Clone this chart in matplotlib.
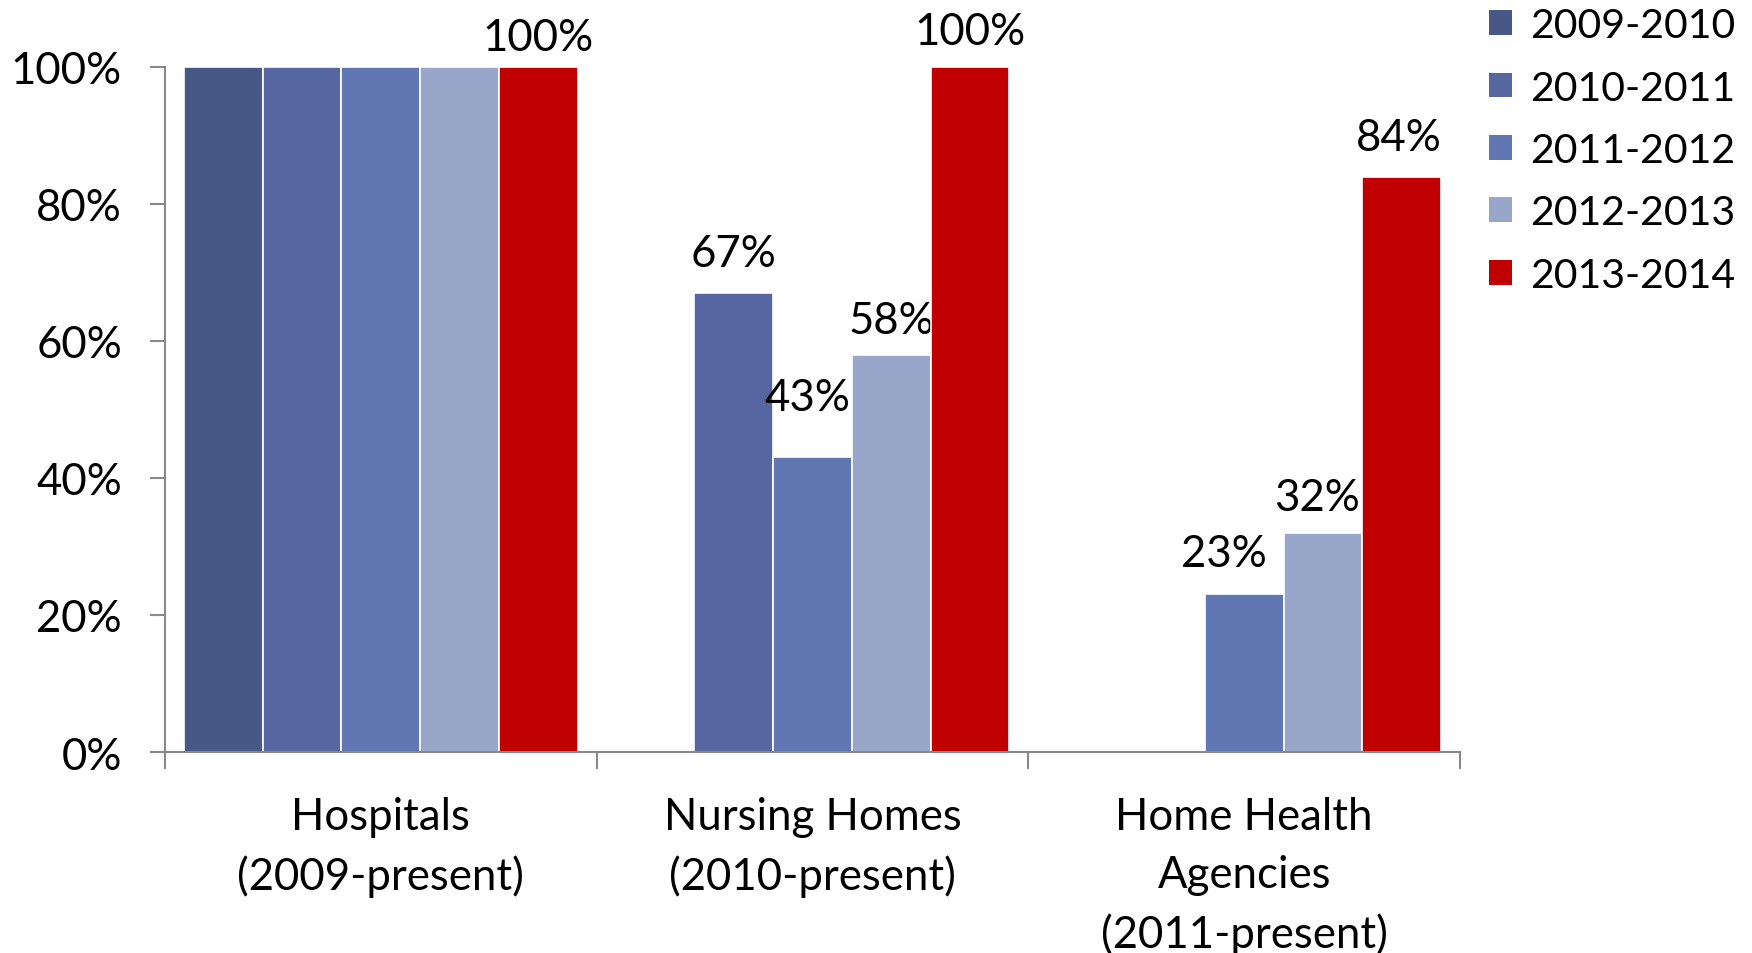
import numpy as np
import matplotlib
matplotlib.use("Agg")
import matplotlib.pyplot as plt
from matplotlib.patches import Patch

plt.rcParams['font.family'] = ['Lato', 'DejaVu Sans']

categories = ["Hospitals\n(2009-present)", "Nursing Homes\n(2010-present)",
              "Home Health\nAgencies\n(2011-present)"]
series = ["2009-2010", "2010-2011", "2011-2012", "2012-2013", "2013-2014"]
values = {
    "2009-2010": [100, np.nan, np.nan],
    "2010-2011": [100, 67, np.nan],
    "2011-2012": [100, 43, 23],
    "2012-2013": [100, 58, 32],
    "2013-2014": [100, 100, 84],
}
# which bars carry a data label (per series, per category)
show_label = {
    "2009-2010": [False, False, False],
    "2010-2011": [False, True, False],
    "2011-2012": [False, True, True],
    "2012-2013": [False, True, True],
    "2013-2014": [True, True, True],
}
colors = ["#475886", "#5566A0", "#6177B3", "#98A6C9", "#C00000"]

# label placement tweaks (pixels: dx, baseline gap above bar)
label_pos = {
    ("2010-2011", 1): (0, 27),
    ("2011-2012", 1): (-5, 47),
    ("2012-2013", 1): (0, 22),
    ("2013-2014", 0): (0, 17),
    ("2013-2014", 1): (0, 23),
    ("2011-2012", 2): (-20, 28),
    ("2012-2013", 2): (-6, 23),
    ("2013-2014", 2): (-3, 27),
}

DPI = 100
fig = plt.figure(figsize=(17.52, 9.54), dpi=DPI)
ax = fig.add_axes([165/1752, 1-753/954, (1460-165)/1752, (753-68)/954])

x = np.arange(len(categories))
bw = 0.912 / len(series)
FS = 31.5
px = 72.0 / DPI
for i, s in enumerate(series):
    vals = np.array(values[s], dtype=float)
    xs = x + (i - 2) * bw
    bars = ax.bar(xs, np.nan_to_num(vals) / 100, width=bw, color=colors[i],
                  edgecolor="white", linewidth=1.2, zorder=3)
    for j, (b, v) in enumerate(zip(bars, vals)):
        if show_label[s][j] and not np.isnan(v):
            dx, dy = label_pos.get((s, j), (0, 24))
            ax.annotate(f"{int(v)}%", (b.get_x() + b.get_width()/2, v/100),
                        xytext=(dx*px, dy*px), textcoords="offset points",
                        ha="center", va="baseline", fontsize=FS, color="black",
                        annotation_clip=False)

ax.set_xlim(-0.5, len(categories) - 0.5)
ax.set_ylim(0, 1)
ax.set_yticks(np.arange(0, 1.01, 0.2))
ax.set_yticklabels([f"{int(round(t*100))}%" for t in np.arange(0, 1.01, 0.2)])
ax.set_xticks(np.arange(-0.5, len(categories), 1.0))
ax.set_xticklabels([])
ax.set_xticks(x, minor=True)
ax.set_xticklabels(categories, minor=True, fontsize=FS, linespacing=1.5)
ax.tick_params(axis='x', which='major', length=12, width=1.5, color="#898989", direction='out')
ax.tick_params(axis='x', which='minor', length=0, pad=32)
ax.tick_params(axis='y', length=11, width=1.5, color="#898989", direction='out',
               labelsize=FS, pad=20)
for sp in ["top", "right"]:
    ax.spines[sp].set_visible(False)
for sp in ["left", "bottom"]:
    ax.spines[sp].set_color("#898989")
    ax.spines[sp].set_linewidth(1.5)
ax.spines["bottom"].set_zorder(4)

handles = [Patch(facecolor=c, edgecolor="none") for c in colors]
fig.legend(handles, series, loc="upper left", bbox_to_anchor=(1485/1752, 1 - 4/954),
           frameon=False, fontsize=29.5, handlelength=0.56, handleheight=0.56,
           handletextpad=0.45, labelspacing=0.62, borderaxespad=0, borderpad=0.1)

fig.savefig("out.png", dpi=DPI, facecolor="white")
